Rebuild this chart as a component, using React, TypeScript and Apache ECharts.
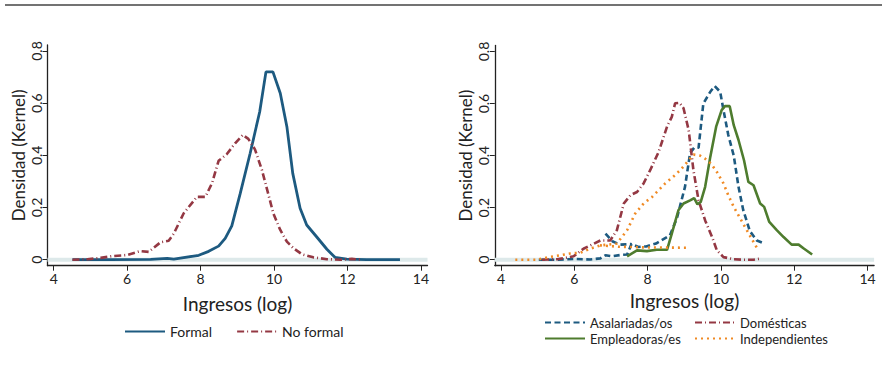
import React, { useEffect, useRef } from "react";
import * as echarts from "echarts";

// ---- axes ----
const X_TICKS = [4, 6, 8, 10, 12, 14];
const Y_TICKS = [0, 0.2, 0.4, 0.6, 0.8];
const X_MIN = 3.83;
const X_MAX = 14.18;
const Y_MIN = -0.023;
const Y_MAX = 0.823;

// ---- left panel ----
const formal: number[][] = [
  [4.51, 0], [5.5, 0], [6.64, 0.001], [7.09, 0.005], [7.27, 0.002], [7.95, 0.017],
  [8.22, 0.032], [8.49, 0.052], [8.67, 0.082], [8.85, 0.13], [9.08, 0.254],
  [9.35, 0.408], [9.61, 0.567], [9.78, 0.72], [9.97, 0.72], [10.17, 0.638],
  [10.35, 0.51], [10.51, 0.331], [10.71, 0.197], [10.89, 0.133], [11.17, 0.086],
  [11.44, 0.04], [11.66, 0.009], [11.98, 0.002], [12.52, 0], [13.43, 0],
];
const noFormal: number[][] = [
  [4.51, 0], [4.92, 0.002], [5.28, 0.007], [5.6, 0.014], [6.0, 0.018], [6.36, 0.033],
  [6.59, 0.03], [6.91, 0.067], [7.13, 0.073], [7.27, 0.1], [7.54, 0.178], [7.9, 0.241],
  [8.13, 0.241], [8.31, 0.293], [8.49, 0.379], [8.71, 0.404], [8.94, 0.446],
  [9.15, 0.478], [9.3, 0.463], [9.48, 0.423], [9.67, 0.344], [9.85, 0.248],
  [9.98, 0.178], [10.17, 0.114], [10.35, 0.069], [10.53, 0.044], [10.76, 0.021],
  [11.07, 0.009], [11.44, 0.002], [11.8, 0], [12.12, 0.003], [12.38, 0],
];

// ---- right panel ----
const asalariadas: (number[] | string)[] = [
  [5.03, 0], [5.53, 0], [5.98, 0.003], [6.43, 0.001], [6.71, 0.005], [6.85, 0.017],
  [7.02, 0.013], [7.25, 0.018], [7.44, 0.02], [7.56, 0.06], [7.75, 0.049],
  [7.96, 0.051], [8.23, 0.062], [8.61, 0.094], [8.8, 0.16], [9.02, 0.28],
  [9.16, 0.41], [9.27, 0.43], [9.39, 0.43], [9.52, 0.6], [9.71, 0.645],
  [9.83, 0.667], [9.98, 0.645], [10.07, 0.575], [10.2, 0.48], [10.35, 0.4],
  [10.48, 0.28], [10.61, 0.19], [10.79, 0.11], [10.98, 0.074], [11.16, 0.064],
  "-",
  [6.85, 0.1], [7.05, 0.07], [7.25, 0.058], [7.56, 0.06],
];
const domesticas: number[][] = [
  [5.12, 0], [5.53, 0.002], [5.98, 0.013], [6.25, 0.042], [6.48, 0.058], [6.71, 0.074],
  [6.98, 0.074], [7.16, 0.113], [7.35, 0.216], [7.53, 0.248], [7.71, 0.26],
  [7.89, 0.293], [8.07, 0.344], [8.3, 0.414], [8.53, 0.511], [8.66, 0.549],
  [8.75, 0.601], [8.87, 0.603], [8.98, 0.582], [9.12, 0.498], [9.25, 0.344],
  [9.39, 0.228], [9.57, 0.151], [9.76, 0.087], [9.89, 0.036], [10.07, 0.01],
  [10.35, 0.002], [10.61, 0], [10.89, 0], [11.07, 0.004],
];
const empleadoras: number[][] = [
  [7.44, 0.013], [7.71, 0.036], [7.98, 0.033], [8.25, 0.038], [8.53, 0.038],
  [8.66, 0.1], [8.84, 0.19], [8.98, 0.216], [9.16, 0.228], [9.27, 0.237],
  [9.36, 0.213], [9.45, 0.222], [9.57, 0.28], [9.71, 0.395], [9.87, 0.511],
  [10.02, 0.575], [10.11, 0.59], [10.24, 0.59], [10.35, 0.517], [10.48, 0.46],
  [10.63, 0.382], [10.75, 0.299], [10.89, 0.286], [11.07, 0.216], [11.18, 0.203],
  [11.32, 0.145], [11.53, 0.113], [11.71, 0.087], [11.93, 0.058], [12.12, 0.058],
  [12.27, 0.042], [12.49, 0.02],
];
const independientes: (number[] | string)[] = [
  [4.39, 0], [4.99, 0], [5.3, 0.01], [5.62, 0.017], [5.89, 0.024], [6.17, 0.027],
  [6.43, 0.042], [6.71, 0.055], [6.92, 0.058], [7.16, 0.062], [7.44, 0.113],
  [7.66, 0.177], [7.89, 0.216], [8.12, 0.241], [8.25, 0.26], [8.48, 0.293],
  [8.75, 0.325], [8.93, 0.35], [9.12, 0.382], [9.25, 0.404], [9.43, 0.4],
  [9.57, 0.388], [9.73, 0.369], [9.89, 0.337], [10.07, 0.293], [10.2, 0.248],
  [10.35, 0.203], [10.53, 0.158], [10.71, 0.113], [10.89, 0.068], [11.02, 0.036],
  "-",
  [6.7, 0.055], [7.2, 0.05], [8.0, 0.047], [9.11, 0.046],
];
const zeroBand: number[][] = [[X_MIN, 0], [X_MAX, 0]];

const FONT = "Lato, 'Open Sans', sans-serif";
const TXT = "#222";
const BLUE = "#1d5a80";
const MAROON = "#943843";
const GREEN = "#4e7c2e";
const ORANGE = "#f08a24";

function xAxis(i: number, nameGap: number) {
  return {
    type: "value", gridIndex: i, min: X_MIN, max: X_MAX,
    name: "Ingresos (log)", nameLocation: "middle", nameGap,
    nameTextStyle: { fontSize: 19, color: TXT, fontFamily: FONT },
    axisLine: { show: true, onZero: false, lineStyle: { color: TXT, width: 1.3 } },
    axisTick: { show: true, length: 5, customValues: X_TICKS, lineStyle: { color: TXT } },
    axisLabel: { customValues: X_TICKS, fontSize: 14, color: TXT, fontFamily: FONT, margin: 6 },
    splitLine: { show: false },
  };
}
function yAxis(i: number) {
  return {
    type: "value", gridIndex: i, min: Y_MIN, max: Y_MAX,
    name: "Densidad (Kernel)", nameLocation: "middle", nameGap: 21, nameRotate: 90,
    nameTextStyle: { fontSize: 17, color: TXT, fontFamily: FONT },
    axisLine: { show: true, onZero: false, lineStyle: { color: TXT, width: 1.3 } },
    axisTick: { show: true, length: 5, customValues: Y_TICKS, lineStyle: { color: TXT } },
    axisLabel: { customValues: Y_TICKS, rotate: 90, fontSize: 14, color: TXT, fontFamily: FONT, margin: 4 },
    splitLine: { show: false },
  };
}
function line(name: string, data: any[], idx: number, color: string, type: any, width = 2.6) {
  return {
    name, type: "line", data, xAxisIndex: idx, yAxisIndex: idx, symbol: "none",
    connectNulls: false, z: 3,
    lineStyle: { color, width, type, cap: "butt" }, itemStyle: { color },
  };
}
function band(idx: number) {
  return {
    name: "band" + idx, type: "line", data: zeroBand, xAxisIndex: idx, yAxisIndex: idx,
    symbol: "none", silent: true, z: 1,
    lineStyle: { color: "#dde9ea", width: 4 },
  };
}

const legendText = { fontSize: 13, color: TXT, fontFamily: FONT, lineHeight: 15 };
const legendBase = {
  itemWidth: 40, itemHeight: 10, padding: 0, selectedMode: false,
  itemStyle: { opacity: 0, borderWidth: 0 },
  textStyle: legendText,
};

export default function App() {
  const ref = useRef<HTMLDivElement>(null);
  useEffect(() => {
    if (!ref.current) return;
    const chart = echarts.init(ref.current, null, { renderer: "svg" });
    chart.setOption({
      animation: false,
      backgroundColor: "#ffffff",
      grid: [
        { left: 47.5, right: 463.5, top: 45, bottom: 110.3 },
        { left: 494.8, right: 16.9, top: 45.5, bottom: 110.3 },
      ],
      xAxis: [xAxis(0, 28), xAxis(1, 18)],
      yAxis: [yAxis(0), yAxis(1)],
      legend: [
        { ...legendBase, data: ["Formal", "No formal"], left: 124, top: 324, itemGap: 24,
          textStyle: { ...legendText, fontSize: 14 } },
        { ...legendBase, data: ["Asalariadas/os", "Empleadoras/es"], orient: "vertical",
          left: 544, top: 315, itemGap: 1 },
        { ...legendBase, data: ["Domésticas", "Independientes"], orient: "vertical",
          left: 694, top: 315, itemGap: 1 },
      ],
      graphic: [
        {
          type: "line", shape: { x1: 5, y1: 5, x2: 882, y2: 5 },
          style: { stroke: "#444", lineWidth: 1.5 }, silent: true,
        },
      ],
      series: [
        band(0),
        band(1),
        line("Formal", formal, 0, BLUE, "solid", 2.8),
        line("No formal", noFormal, 0, MAROON, [7, 3, 1, 3], 2.6),
        line("Asalariadas/os", asalariadas, 1, BLUE, [6, 3.5], 2.6),
        line("Domésticas", domesticas, 1, MAROON, [7, 3, 1, 3], 2.6),
        line("Empleadoras/es", empleadoras, 1, GREEN, "solid", 2.6),
        line("Independientes", independientes, 1, ORANGE, [2, 4], 2.6),
      ],
    });
    return () => chart.dispose();
  }, []);
  return (
    <div
      ref={ref}
      style={{ position: "fixed", left: 0, top: 0, width: 891, height: 376, background: "#fff" }}
    />
  );
}
